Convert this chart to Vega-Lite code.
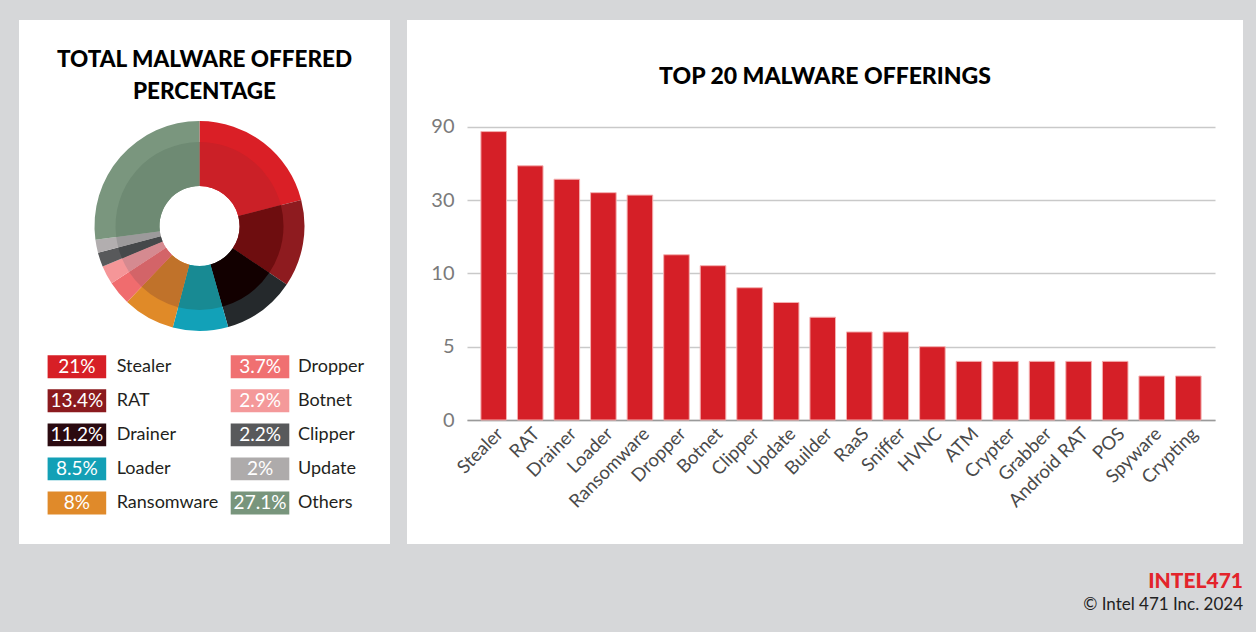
{
  "$schema": "https://vega.github.io/schema/vega-lite/v6.json",
  "background": "#D6D7D9",
  "padding": {"left": 19, "top": 20, "right": 13, "bottom": 22},
  "config": {"view": {"fill": "white", "stroke": null}, "font": "Lato"},
  "title": {"text": "INTEL471", "subtitle": "© Intel 471 Inc. 2024", "orient": "bottom", "anchor": "end", "offset": 27, "font": "Lato", "fontSize": 21, "fontWeight": 900, "color": "#E3242B", "subtitleFont": "Lato", "subtitleFontSize": 17, "subtitleColor": "#222222", "subtitlePadding": 5},
  "datasets": {
    "share": [
      {"name": "Stealer", "pct": 0.21, "ord": 1},
      {"name": "RAT", "pct": 0.134, "ord": 2},
      {"name": "Drainer", "pct": 0.112, "ord": 3},
      {"name": "Loader", "pct": 0.085, "ord": 4},
      {"name": "Ransomware", "pct": 0.08, "ord": 5},
      {"name": "Dropper", "pct": 0.037, "ord": 6},
      {"name": "Botnet", "pct": 0.029, "ord": 7},
      {"name": "Clipper", "pct": 0.022, "ord": 8},
      {"name": "Update", "pct": 0.02, "ord": 9},
      {"name": "Others", "pct": 0.271, "ord": 10}
    ],
    "top20": [
      {"name": "Stealer", "count": 86},
      {"name": "RAT", "count": 58},
      {"name": "Drainer", "count": 47},
      {"name": "Loader", "count": 36},
      {"name": "Ransomware", "count": 34},
      {"name": "Dropper", "count": 15},
      {"name": "Botnet", "count": 12},
      {"name": "Clipper", "count": 9},
      {"name": "Update", "count": 8},
      {"name": "Builder", "count": 7},
      {"name": "RaaS", "count": 6},
      {"name": "Sniffer", "count": 6},
      {"name": "HVNC", "count": 5},
      {"name": "ATM", "count": 4},
      {"name": "Crypter", "count": 4},
      {"name": "Grabber", "count": 4},
      {"name": "Android RAT", "count": 4},
      {"name": "POS", "count": 4},
      {"name": "Spyware", "count": 3},
      {"name": "Crypting", "count": 3}
    ]
  },
  "spacing": 17,
  "resolve": {"scale": {"color": "independent", "x": "independent", "y": "independent", "theta": "independent"}, "legend": {"color": "independent"}},
  "hconcat": [
    {
      "spacing": 0,
      "resolve": {"scale": {"color": "independent", "x": "independent", "y": "independent", "theta": "independent"}, "legend": {"color": "independent"}},
      "vconcat": [
        {
          "width": 371, "height": 101,
          "data": {"values": [{"t": 1}]},
          "layer": [
            {"mark": {"type": "rect", "color": "white"}, "encoding": {}},
            {"mark": {"type": "text", "text": ["TOTAL MALWARE OFFERED", "PERCENTAGE"], "font": "Lato", "fontSize": 22.5, "fontWeight": 900, "color": "#000000", "lineHeight": 32, "baseline": "middle", "align": "center", "dy": -11}, "encoding": {}}
          ]
        },
        {
          "width": 371, "height": 210,
          "resolve": {"scale": {"color": "independent"}, "legend": {"color": "independent"}},
          "layer": [
            {"data": {"values": [{"t": 1}]}, "mark": {"type": "rect", "color": "white"}, "encoding": {}},
            {
              "data": {"name": "share"},
              "mark": {"type": "arc", "outerRadius": 105, "innerRadius": 40, "xOffset": -5},
              "encoding": {
                "theta": {"field": "pct", "type": "quantitative", "stack": true},
                "order": {"field": "ord", "type": "quantitative"},
                "color": {"field": "name", "type": "nominal", "legend": null, "scale": {"domain": ["Stealer", "RAT", "Drainer", "Loader", "Ransomware", "Dropper", "Botnet", "Clipper", "Update", "Others"], "range": ["#DA1F26", "#8E1B1F", "#25292C", "#12A1B8", "#E08A28", "#F06C6E", "#F59698", "#58595B", "#B2AEAF", "#7A967E"]}}}
            },
            {
              "data": {"name": "share"},
              "mark": {"type": "arc", "outerRadius": 84, "innerRadius": 40, "xOffset": -5},
              "encoding": {
                "theta": {"field": "pct", "type": "quantitative", "stack": true},
                "order": {"field": "ord", "type": "quantitative"},
                "color": {"field": "name", "type": "nominal", "legend": null, "scale": {"domain": ["Stealer", "RAT", "Drainer", "Loader", "Ransomware", "Dropper", "Botnet", "Clipper", "Update", "Others"], "range": ["#CB2027", "#6E0D0F", "#120000", "#188A93", "#C0722A", "#D36468", "#D58A90", "#45484A", "#9C9A9B", "#6E8A73"]}}}
            }
          ]
        },
        {
          "spacing": 0,
          "bounds": "flush",
          "resolve": {"scale": {"color": "independent", "y": "independent"}, "legend": {"color": "independent"}},
          "hconcat": [
            {
              "width": 220, "height": 213,
              "data": {"name": "share"},
              "transform": [{"filter": "datum.ord <= 5"}],
              "encoding": {"y": {"field": "name", "type": "nominal", "sort": {"field": "ord", "op": "min"}, "scale": {"type": "point", "range": [35.7, 172], "padding": 0}, "axis": null}},
              "layer": [
                {"mark": {"type": "point", "shape": "M-1,-0.39H1V0.39H-1Z", "size": 3434, "filled": true, "opacity": 1, "strokeWidth": 0, "xOffset": -52.1},
                 "encoding": {"color": {"field": "name", "type": "nominal", "legend": null, "scale": {"domain": ["Stealer", "RAT", "Drainer", "Loader", "Ransomware", "Dropper", "Botnet", "Clipper", "Update", "Others"], "range": ["#D71F26", "#8B1A1E", "#2B0A10", "#13A0B6", "#E08A2A", "#F07071", "#F4999A", "#58595B", "#AEABAB", "#78957C"]}}}},
                {"mark": {"type": "text", "xOffset": -52.1, "color": "white", "fontSize": 19, "align": "center", "baseline": "middle"},
                 "encoding": {"text": {"field": "pct", "type": "quantitative", "format": ".3~%"}}},
                {"mark": {"type": "text", "xOffset": -12.3, "color": "#231F20", "fontSize": 18, "align": "left", "baseline": "middle"},
                 "encoding": {"text": {"field": "name", "type": "nominal"}}}
              ]
            },
            {
              "width": 151, "height": 213,
              "data": {"name": "share"},
              "transform": [{"filter": "datum.ord > 5"}],
              "encoding": {"y": {"field": "name", "type": "nominal", "sort": {"field": "ord", "op": "min"}, "scale": {"type": "point", "range": [35.7, 172], "padding": 0}, "axis": null}},
              "layer": [
                {"mark": {"type": "point", "shape": "M-1,-0.39H1V0.39H-1Z", "size": 3434, "filled": true, "opacity": 1, "strokeWidth": 0, "xOffset": -54.5},
                 "encoding": {"color": {"field": "name", "type": "nominal", "legend": null, "scale": {"domain": ["Stealer", "RAT", "Drainer", "Loader", "Ransomware", "Dropper", "Botnet", "Clipper", "Update", "Others"], "range": ["#D71F26", "#8B1A1E", "#2B0A10", "#13A0B6", "#E08A2A", "#F07071", "#F4999A", "#58595B", "#AEABAB", "#78957C"]}}}},
                {"mark": {"type": "text", "xOffset": -54.5, "color": "white", "fontSize": 19, "align": "center", "baseline": "middle"},
                 "encoding": {"text": {"field": "pct", "type": "quantitative", "format": ".3~%"}}},
                {"mark": {"type": "text", "xOffset": -16.5, "color": "#231F20", "fontSize": 18, "align": "left", "baseline": "middle"},
                 "encoding": {"text": {"field": "name", "type": "nominal"}}}
              ]
            }
          ]
        }
      ]
    },
    {
      "width": 836, "height": 524,
      "data": {"name": "top20"},
      "title": {"text": "TOP 20 MALWARE OFFERINGS", "offset": -69, "font": "Lato", "fontSize": 23, "fontWeight": 900, "color": "#000000", "anchor": "middle"},
      "mark": {"type": "bar", "color": "#D51F27", "stroke": "#F4B0B0", "strokeWidth": 1},
      "encoding": {
        "x": {"field": "name", "type": "nominal", "sort": null,
              "scale": {"range": [60, 808], "paddingInner": 0.3, "paddingOuter": 0.38},
              "axis": {"title": null, "labelAngle": -45, "labelFontSize": 18.5, "labelColor": "#4A4A4A", "ticks": false, "domainColor": "#9A9A9A", "domainWidth": 1.5, "offset": -124, "labelPadding": 4}},
        "y": {"field": "count", "type": "quantitative",
              "scale": {"domain": [0, 5, 10, 30, 90], "range": [400, 326.7, 253, 180, 106.7], "zero": false, "nice": false},
              "axis": {"title": null, "values": [0, 5, 10, 30, 90], "grid": true, "gridColor": "#C9C9C9", "gridWidth": 1.5, "domain": false, "ticks": false, "labelFontSize": 20, "labelColor": "#7A7A7A", "labelPadding": 4, "offset": -51}}
      }
    }
  ]
}
